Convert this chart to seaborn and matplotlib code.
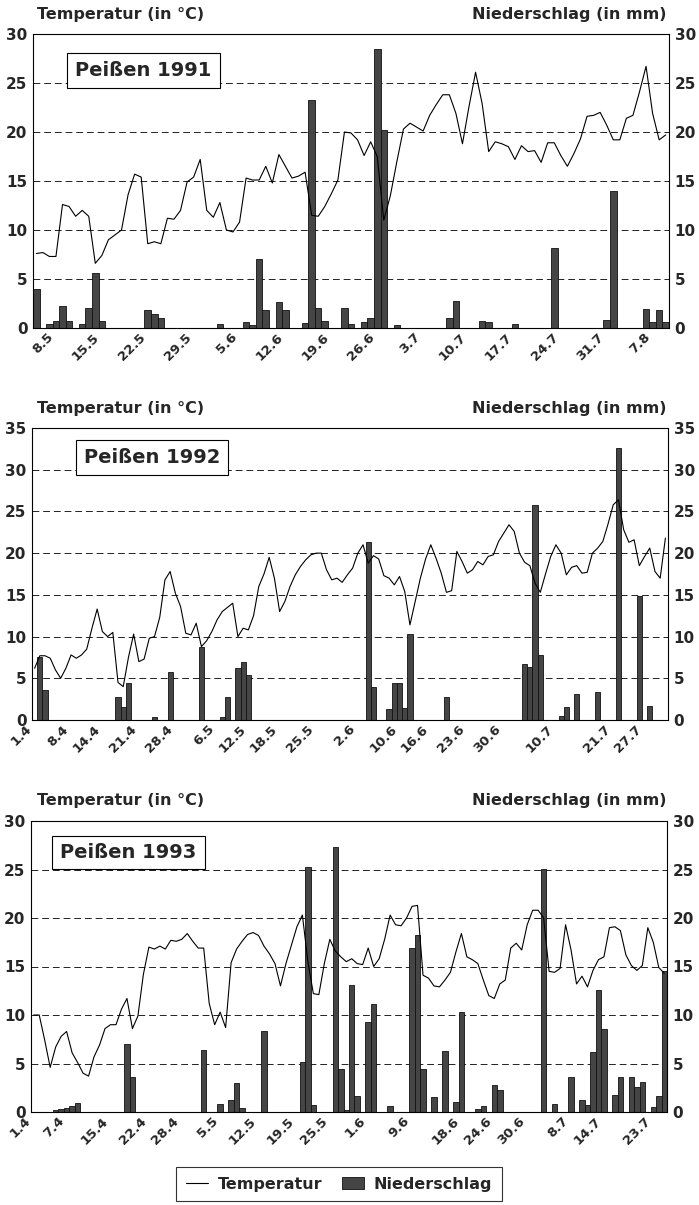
import numpy as np
import pandas as pd
import matplotlib
matplotlib.use("Agg")
import matplotlib.pyplot as plt
import seaborn as sns
from matplotlib.patches import Rectangle, Patch
from matplotlib.lines import Line2D

# ---------------- data ----------------
start1 = "1991-05-05"
temp1 = [7.6, 7.7, 7.3, 7.3, 12.6, 12.4, 11.4, 12.0, 11.4, 6.6,
         7.4, 9.0, 9.5, 10.0, 13.6, 15.7, 15.4, 8.6, 8.8, 8.6,
         11.2, 11.1, 12.0, 14.9, 15.4, 17.2, 12.0, 11.3, 12.8, 10.0,
         9.8, 10.8, 15.3, 15.1, 15.1, 16.5, 14.8, 17.7, 16.5, 15.3,
         15.5, 15.9, 11.5, 11.4, 12.4, 13.7, 15.1, 20.0, 19.9, 19.2,
         17.6, 19.0, 17.5, 11.0, 13.5, 17.0, 20.3, 20.9, 20.5, 20.1,
         21.7, 22.8, 23.8, 23.8, 21.9, 18.8, 22.6, 26.1, 22.9, 18.0,
         19.0, 18.8, 18.5, 17.2, 18.6, 18.0, 18.1, 16.9, 18.9, 18.9,
         17.6, 16.5, 17.8, 19.3, 21.6, 21.7, 22.0, 20.7, 19.2, 19.2,
         21.4, 21.7, 24.1, 26.7, 21.9, 19.2, 19.7]
rain1_day = [0, 2, 3, 4, 5, 7, 8, 9, 10, 17, 18, 19, 28, 32, 33, 34, 35, 37, 38,
             41, 42, 43, 44, 47, 48, 50, 51, 52, 53, 55, 63, 64, 68, 69, 73, 79,
             87, 88, 93, 94, 95, 96]
rain1_mm = [4.0, 0.4, 0.7, 2.2, 0.7, 0.4, 2.0, 5.6, 0.7, 1.8, 1.4, 1.0, 0.4, 0.6, 0.3,
            7.0, 1.8, 2.7, 1.8, 0.5, 23.3, 2.0, 0.7, 2.0, 0.4, 0.6, 1.0, 28.5, 20.2,
            0.3, 1.0, 2.8, 0.7, 0.6, 0.4, 8.2, 0.8, 14.0, 1.9, 0.6, 1.8, 0.6]
ticks1 = ["8.5", "15.5", "22.5", "29.5", "5.6", "12.6", "19.6", "26.6", "3.7",
          "10.7", "17.7", "24.7", "31.7", "7.8"]

start2 = "1992-04-01"
temp2 = [6.2, 7.7, 7.7, 7.4, 6.0, 5.0, 6.2, 7.8, 7.4, 7.8,
         8.5, 11.0, 13.3, 10.6, 10.0, 10.5, 4.5, 4.0, 7.5, 10.3,
         7.0, 7.3, 9.8, 10.0, 12.3, 16.8, 17.8, 15.2, 13.6, 10.4,
         10.2, 11.6, 8.8, 9.5, 10.6, 12.0, 13.0, 13.5, 14.0, 10.0,
         11.0, 10.8, 12.5, 16.0, 17.5, 19.5, 17.0, 13.0, 14.2, 16.0,
         17.4, 18.4, 19.2, 19.8, 20.0, 20.0, 18.0, 16.8, 17.0, 16.5,
         17.4, 18.2, 20.0, 21.0, 18.8, 19.7, 19.3, 17.3, 17.0, 16.2,
         17.2, 15.4, 11.4, 14.2, 17.0, 19.3, 21.0, 19.4, 17.6, 15.3,
         15.5, 20.2, 19.0, 17.6, 18.0, 19.0, 18.6, 19.6, 19.8, 21.4,
         22.4, 23.4, 22.6, 20.0, 18.9, 18.5, 16.4, 15.3, 17.5, 19.6,
         21.0, 20.0, 17.4, 18.3, 18.5, 17.6, 17.7, 20.0, 20.6, 21.4,
         23.5, 25.8, 26.4, 22.8, 21.3, 21.6, 18.5, 19.6, 20.6, 17.8,
         17.0, 21.8]
rain2_day = [1, 2, 16, 17, 18, 23, 26, 32, 36, 37, 39, 40, 41, 64, 65, 68, 69, 70,
             71, 72, 79, 94, 95, 96, 97, 101, 102, 104, 108, 112, 116, 118]
rain2_mm = [7.5, 3.6, 2.7, 1.5, 4.4, 0.4, 5.8, 8.8, 0.4, 2.7, 6.2, 6.9, 5.4, 21.3,
            4.0, 1.3, 4.4, 4.4, 1.4, 10.3, 2.8, 6.7, 6.4, 25.8, 7.8, 0.5, 1.6, 3.1,
            3.4, 32.6, 14.9, 1.7]
ticks2 = ["1.4", "8.4", "14.4", "21.4", "28.4", "6.5", "12.5", "18.5", "25.5",
          "2.6", "10.6", "16.6", "23.6", "30.6", "10.7", "21.7", "27.7"]

start3 = "1993-04-01"
temp3 = [10.0, 10.0, 7.4, 4.6, 6.7, 7.8, 8.3, 6.1, 5.1, 4.0,
         3.7, 5.7, 6.9, 8.6, 9.0, 9.0, 10.6, 11.7, 8.6, 9.9,
         14.2, 17.0, 16.8, 17.1, 16.8, 17.7, 17.6, 17.8, 18.4, 17.6,
         16.9, 16.9, 11.2, 9.0, 10.3, 8.7, 15.4, 16.8, 17.6, 18.3,
         18.5, 18.2, 17.1, 16.3, 15.3, 13.0, 15.3, 17.2, 19.1, 20.3,
         15.5, 12.2, 12.1, 15.3, 17.8, 16.6, 16.0, 15.5, 15.8, 15.3,
         15.2, 16.9, 15.0, 15.8, 17.8, 20.3, 19.3, 19.2, 20.0, 21.2,
         21.3, 14.1, 13.8, 13.0, 12.9, 13.6, 14.4, 16.5, 18.4, 16.0,
         15.7, 15.3, 13.6, 12.0, 11.7, 13.2, 13.6, 16.9, 17.4, 16.7,
         19.3, 20.8, 20.8, 20.0, 14.5, 14.4, 14.8, 19.3, 16.7, 13.2,
         14.0, 12.9, 14.6, 15.7, 16.0, 19.0, 19.1, 18.7, 16.2, 15.1,
         14.6, 15.1, 19.0, 17.5, 14.9, 14.3]
rain3_day = [4, 5, 6, 7, 8, 17, 18, 31, 34, 36, 37, 38, 42, 49, 50, 51, 55, 56, 57,
             58, 59, 61, 62, 65, 69, 70, 71, 73, 75, 77, 78, 81, 82, 84, 85, 93, 95,
             98, 100, 101, 102, 103, 104, 106, 107, 109, 110, 111, 113, 114, 115]
rain3_mm = [0.2, 0.3, 0.4, 0.6, 0.9, 7.0, 3.6, 6.4, 0.8, 1.2, 3.0, 0.4, 8.3, 5.2,
            25.3, 0.7, 27.3, 4.4, 0.2, 13.1, 1.6, 9.3, 11.1, 0.6, 16.9, 18.2, 4.4,
            1.5, 6.3, 1.0, 10.3, 0.3, 0.6, 2.8, 2.3, 25.1, 0.8, 3.6, 1.2, 0.7, 6.2,
            12.6, 8.6, 1.8, 3.6, 3.6, 2.6, 3.1, 0.5, 1.6, 14.5]
ticks3 = ["1.4", "7.4", "15.4", "22.4", "28.4", "5.5", "12.5", "19.5", "25.5",
          "1.6", "9.6", "18.6", "24.6", "30.6", "8.7", "14.7", "23.7"]

titles = ["Peißen 1991", "Peißen 1992", "Peißen 1993"]
ymax = [30, 35, 30]

# ---------------- style ----------------
sns.set_theme(style="white")
plt.rcParams['font.family'] = ['DejaVu Sans']
plt.rcParams['font.weight'] = 'bold'

W, H = 699, 1205
fig = plt.figure(figsize=(W / 100, H / 100), dpi=100)


def fx(px):
    return px / W


def fy(py):
    return 1 - py / H


# axes boxes in pixels: left, top, right, bottom
boxes = [(33, 34, 669, 328), (32, 428, 668, 720), (31, 821, 667, 1112)]
label_boxes = [(67, 53, 220, 88), (76, 440, 228, 475), (52, 836, 205, 869)]
head_y = [15, 408, 801]

panels = [(start1, temp1, rain1_day, rain1_mm, ticks1),
          (start2, temp2, rain2_day, rain2_mm, ticks2),
          (start3, temp3, rain3_day, rain3_mm, ticks3)]

bar_color = "#454545"

for i, (start, temp, rday, rmm, tlabels) in enumerate(panels):
    l, t, r, b = boxes[i]
    ax = fig.add_axes([fx(l), fy(b), fx(r - l), (b - t) / H])
    n = len(temp)
    days = np.arange(n)
    year = int(start[:4])
    t0 = pd.Timestamp(start)

    sns.barplot(x=rday, y=rmm, native_scale=True, width=1.0, color=bar_color,
                saturation=1, edgecolor="#111111", linewidth=0.6, errorbar=None,
                ax=ax, zorder=2)
    sns.lineplot(x=days, y=temp, color="black", linewidth=0.8, ax=ax, zorder=3)

    top = ymax[i]
    ax.set_xlim(-0.5, n - 0.5)
    ax.set_ylim(0, top)
    yt = list(range(0, top + 1, 5))
    ax.set_yticks(yt)
    ax.set_yticklabels([str(v) for v in yt])
    for v in yt[1:-1]:
        ax.axhline(v, color="#222222", linewidth=0.7, linestyle=(0, (7, 4)), zorder=1)

    pos = []
    for lab in tlabels:
        d, m = lab.split(".")
        pos.append((pd.Timestamp(year=year, month=int(m), day=int(d)) - t0).days)
    ax.set_xticks(pos)
    ax.set_xticklabels(tlabels, rotation=45, ha="right", fontsize=9.5,
                       fontweight="bold")
    ax.set_xlabel("")
    ax.set_ylabel("")
    ax.tick_params(axis="y", labelleft=True, labelright=True, length=0, pad=4,
                   labelsize=11)
    ax.tick_params(axis="x", length=0, pad=2)
    for lab in ax.get_yticklabels(which="both"):
        lab.set_fontweight("bold")
    for s in ax.spines.values():
        s.set_visible(True)
        s.set_color("black")
        s.set_linewidth(0.8)
    if ax.get_legend():
        ax.get_legend().remove()

    # panel heading texts
    fig.text(fx(37), fy(head_y[i]), "Temperatur (in °C)", ha="left", va="center",
             fontsize=11.5, fontweight="bold")
    fig.text(fx(666), fy(head_y[i]), "Niederschlag (in mm)", ha="right",
             va="center", fontsize=11.5, fontweight="bold")

    # boxed station label
    bl, bt, br, bb = label_boxes[i]
    fig.patches.append(Rectangle((fx(bl), fy(bb)), fx(br - bl), (bb - bt) / H,
                                 transform=fig.transFigure, facecolor="white",
                                 edgecolor="black", linewidth=0.8, zorder=5))
    fig.text(fx((bl + br) / 2), fy((bt + bb) / 2), titles[i], ha="center",
             va="center", fontsize=14, fontweight="bold", zorder=6)

# legend
handles = [Line2D([], [], color="black", linewidth=0.8),
           Patch(facecolor=bar_color, edgecolor="#111111", linewidth=0.6)]
leg = fig.legend(handles, ["Temperatur", "Niederschlag"], loc="center",
                 bbox_to_anchor=(fx(339), fy(1184)), ncol=2, frameon=True,
                 fancybox=False, edgecolor="black",
                 prop={"size": 11.5, "weight": "bold"},
                 handlelength=1.4, handletextpad=0.6, columnspacing=1.2,
                 borderpad=0.6)
leg.get_frame().set_linewidth(0.8)

fig.savefig("out.png", dpi=100, facecolor="white")
